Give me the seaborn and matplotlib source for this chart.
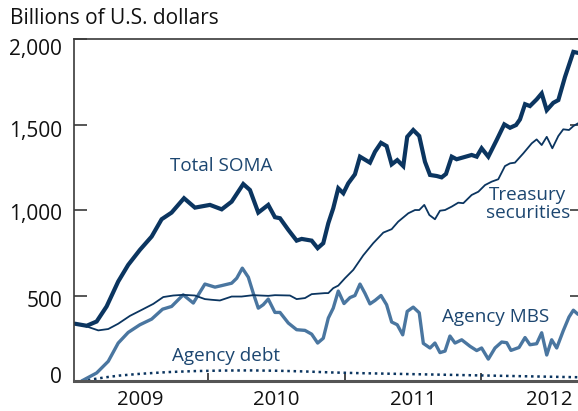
import matplotlib
matplotlib.use("Agg")
import matplotlib.pyplot as plt
import matplotlib.transforms as mtransforms
import seaborn as sns
import pandas as pd

# ---------------- data (billions of U.S. dollars, decimal years) ----------------
soma_year = [2009.022, 2009.108, 2009.181, 2009.254, 2009.339, 2009.412, 2009.498, 2009.584,
             2009.657, 2009.730, 2009.821, 2009.901, 2010.011, 2010.097, 2010.170, 2010.255,
             2010.304, 2010.365, 2010.438, 2010.487, 2010.524, 2010.585, 2010.646, 2010.683,
             2010.756, 2010.800, 2010.841, 2010.878, 2010.914, 2010.951, 2010.988, 2011.024,
             2011.073, 2011.110, 2011.183, 2011.220, 2011.264, 2011.305, 2011.342, 2011.383,
             2011.427, 2011.456, 2011.500, 2011.544, 2011.586, 2011.623, 2011.672, 2011.708,
             2011.740, 2011.782, 2011.818, 2011.867, 2011.928, 2011.965, 2012.001, 2012.050,
             2012.111, 2012.167, 2012.209, 2012.253, 2012.282, 2012.319, 2012.355, 2012.404,
             2012.441, 2012.478, 2012.526, 2012.563, 2012.612, 2012.673, 2012.707]
soma_val = [335, 323, 348, 436, 582, 679, 767, 845,
            946, 985, 1069, 1014, 1030, 1004, 1049, 1152,
            1117, 985, 1030, 958, 952, 884, 821, 831,
            821, 777, 806, 923, 1010, 1127, 1098, 1156,
            1209, 1312, 1277, 1341, 1393, 1374, 1267, 1292,
            1257, 1428, 1468, 1433, 1282, 1205, 1199, 1191,
            1211, 1312, 1297, 1308, 1322, 1312, 1361, 1312,
            1409, 1501, 1481, 1497, 1530, 1619, 1608, 1647,
            1682, 1584, 1627, 1643, 1779, 1925, 1919]

tsy_year = [2009.022, 2009.108, 2009.193, 2009.266, 2009.339, 2009.425, 2009.511, 2009.596,
            2009.669, 2009.742, 2009.815, 2009.901, 2009.974, 2010.023, 2010.084, 2010.170,
            2010.243, 2010.328, 2010.438, 2010.487, 2010.597, 2010.646, 2010.707, 2010.756,
            2010.853, 2010.878, 2010.914, 2010.951, 2011.000, 2011.061, 2011.134, 2011.207,
            2011.281, 2011.342, 2011.390, 2011.464, 2011.513, 2011.544, 2011.581, 2011.618,
            2011.659, 2011.696, 2011.733, 2011.782, 2011.830, 2011.867, 2011.928, 2011.977,
            2012.026, 2012.075, 2012.123, 2012.172, 2012.209, 2012.245, 2012.306, 2012.368,
            2012.404, 2012.441, 2012.478, 2012.519, 2012.563, 2012.599, 2012.641, 2012.673,
            2012.707]
tsy_val = [335, 319, 296, 304, 335, 381, 416, 451,
           491, 500, 504, 500, 479, 475, 471, 494,
           494, 502, 498, 502, 500, 479, 485, 508,
           514, 514, 543, 558, 601, 650, 735, 806,
           868, 888, 932, 981, 1000, 1000, 1030, 971,
           946, 996, 1000, 1020, 1043, 1040, 1088, 1107,
           1146, 1166, 1180, 1257, 1273, 1277, 1331, 1390,
           1413, 1380, 1428, 1361, 1433, 1472, 1468, 1491,
           1507]

mbs_year = [2009.071, 2009.181, 2009.266, 2009.339, 2009.412, 2009.498, 2009.584, 2009.664,
            2009.730, 2009.815, 2009.889, 2009.974, 2010.048, 2010.097, 2010.170, 2010.207,
            2010.248, 2010.292, 2010.328, 2010.365, 2010.401, 2010.438, 2010.487, 2010.524,
            2010.585, 2010.646, 2010.707, 2010.756, 2010.800, 2010.841, 2010.878, 2010.914,
            2010.951, 2010.993, 2011.037, 2011.073, 2011.110, 2011.147, 2011.183, 2011.220,
            2011.264, 2011.305, 2011.342, 2011.383, 2011.423, 2011.456, 2011.500, 2011.544,
            2011.574, 2011.623, 2011.659, 2011.696, 2011.733, 2011.769, 2011.806, 2011.855,
            2011.916, 2011.965, 2012.001, 2012.050, 2012.099, 2012.148, 2012.185, 2012.216,
            2012.275, 2012.319, 2012.355, 2012.404, 2012.441, 2012.478, 2012.514, 2012.551,
            2012.599, 2012.641, 2012.673, 2012.707]
mbs_val = [0, 47, 115, 222, 284, 329, 362, 420,
           436, 504, 456, 567, 549, 558, 572, 601,
           660, 607, 514, 426, 446, 479, 401, 401,
           339, 300, 296, 274, 222, 250, 368, 426,
           526, 453, 488, 500, 567, 512, 451, 471,
           500, 446, 345, 329, 270, 407, 432, 399,
           220, 193, 222, 166, 175, 263, 222, 241,
           203, 178, 193, 128, 193, 228, 224, 179,
           196, 254, 212, 218, 282, 152, 241, 193,
           294, 374, 414, 390]

debt_year = [2009.071, 2009.15, 2009.25, 2009.35, 2009.5, 2009.7, 2009.9, 2010.1, 2010.3,
             2010.5, 2010.7, 2010.9, 2011.1, 2011.3, 2011.5, 2011.7, 2011.9, 2012.1,
             2012.3, 2012.5, 2012.707]
debt_val = [0, 10, 22, 32, 42, 52, 58, 61, 62,
            60, 56, 50, 46, 43, 40, 37, 34, 31,
            28, 25, 22]

y_ticks = [0, 500, 1000, 1500, 2000]
y_tick_labels = ["0", "500", "1,000", "1,500", "2,000"]
year_bounds = [2010, 2011, 2012]
year_labels = ["2009", "2010", "2011", "2012"]
year_mids = [2009.5, 2010.5, 2011.5, 2012.5]

# ---------------- styling ----------------
sns.set_style("white")
plt.rcParams["font.family"] = ["Open Sans", "DejaVu Sans"]

NAVY = "#0b3560"
TEXT_NAVY = "#1c4670"
STEEL = "#4a76a0"
SPINE = "#3a3a3a"

fig = plt.figure(figsize=(5.78, 4.11), dpi=100)
ax = fig.add_axes([0.128, 0.073, 0.872, 0.832])

soma = pd.DataFrame({"year": soma_year, "value": soma_val})
tsy = pd.DataFrame({"year": tsy_year, "value": tsy_val})
mbs = pd.DataFrame({"year": mbs_year, "value": mbs_val})
debt = pd.DataFrame({"year": debt_year, "value": debt_val})

sns.lineplot(data=debt, x="year", y="value", ax=ax, color=NAVY, lw=1.8,
             linestyle=(0, (1.0, 1.5)), estimator=None, sort=False)
sns.lineplot(data=mbs, x="year", y="value", ax=ax, color=STEEL, lw=2.4,
             estimator=None, sort=False)
sns.lineplot(data=tsy, x="year", y="value", ax=ax, color=NAVY, lw=1.3,
             estimator=None, sort=False)
sns.lineplot(data=soma, x="year", y="value", ax=ax, color=NAVY, lw=3.0,
             estimator=None, sort=False, solid_joinstyle="miter")

ax.set_xlim(2009.015, 2012.707)
ax.set_ylim(0, 2000)
ax.set_xlabel("")
ax.set_ylabel("")

# spines
for side in ["left", "top"]:
    ax.spines[side].set_color(SPINE)
    ax.spines[side].set_linewidth(1.2)
ax.spines["bottom"].set_color("#555555")
ax.spines["bottom"].set_linewidth(2.2)
ax.spines["right"].set_visible(False)

# y ticks
ax.set_yticks(y_ticks)
ax.set_yticklabels(y_tick_labels)
ax.tick_params(axis="y", direction="in", length=9.5, width=1.2, color=SPINE,
               left=True, right=True, labelsize=15, pad=8.5, labelcolor="#111111")
for t in ax.yaxis.get_major_ticks():
    t.tick2line.set_markersize(6)
label_shift_px = {"2,000": -8, "1,500": -4, "1,000": -2, "500": -3, "0": 6}
for lab in ax.get_yticklabels():
    dy = label_shift_px.get(lab.get_text(), 0) / 100.0
    lab.set_transform(lab.get_transform() +
                      mtransforms.ScaledTranslation(0, dy, fig.dpi_scale_trans))

# x ticks: boundaries as major ticks, year labels centered via minor ticks
ax.set_xticks(year_bounds)
ax.set_xticklabels([])
ax.set_xticks(year_mids, minor=True)
ax.set_xticklabels(year_labels, minor=True)
ax.tick_params(axis="x", which="major", direction="in", length=6, width=1.3,
               color=SPINE, bottom=True)
ax.tick_params(axis="x", which="minor", length=0, labelsize=14.6, pad=6.5,
               labelcolor="#111111")

# title / unit
fig.text(10 / 578, 1 - 19 / 411, "Billions of U.S. dollars", fontsize=15,
         ha="left", va="center", color="#111111")

# series labels
ax.text(2010.09, 1257, "Total SOMA", color=TEXT_NAVY, fontsize=13.6,
        ha="center", va="center")
ax.text(2012.34, 1035, "Treasury\nsecurities", color=TEXT_NAVY, fontsize=13.6,
        ha="center", va="center", linespacing=0.95)
ax.text(2012.106, 377, "Agency MBS", color=TEXT_NAVY, fontsize=13.6,
        ha="center", va="center")
ax.text(2010.125, 146, "Agency debt", color=TEXT_NAVY, fontsize=13.6,
        ha="center", va="center")

fig.savefig("out.png", dpi=100)
